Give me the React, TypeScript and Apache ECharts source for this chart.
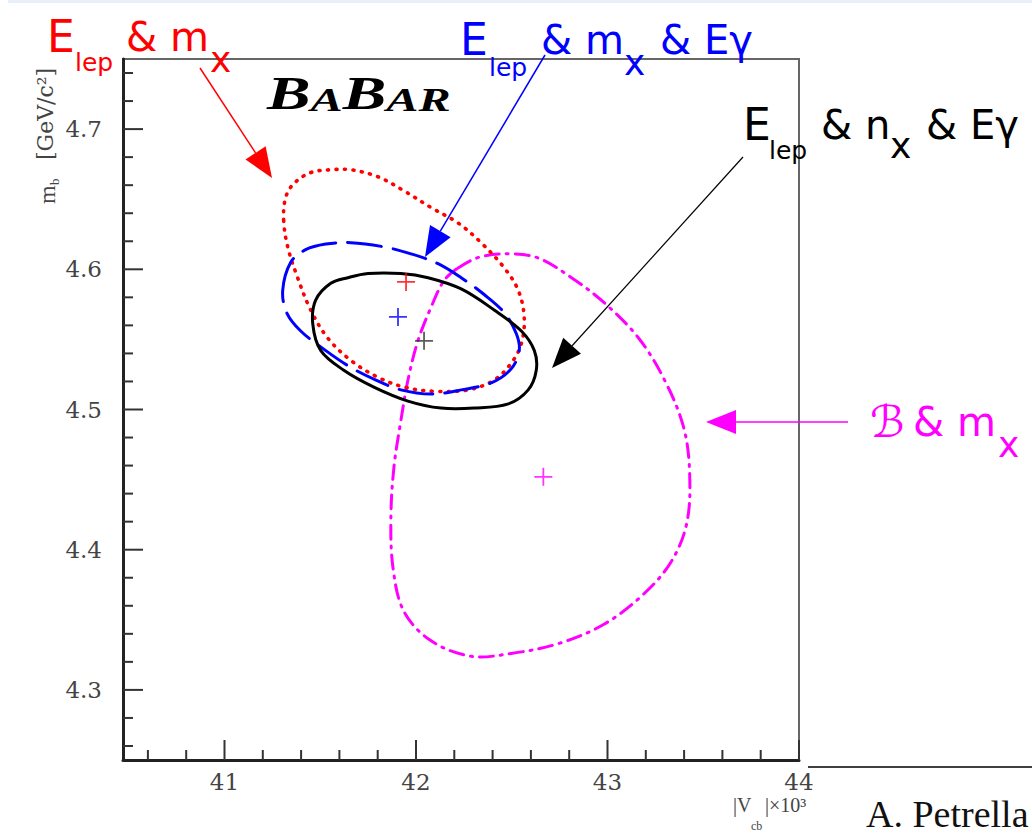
import React, { useEffect, useRef } from "react";
import * as echarts from "echarts";

// Axis ranges: |Vcb| x 10^3 (horizontal) and m_b in GeV/c^2 (vertical)
const X_MIN = 40.47;
const X_MAX = 44;
const Y_MIN = 4.25;
const Y_MAX = 4.75;

const xMajorTicks = [41, 42, 43, 44];
const xMinorTicks = [40.6, 40.8, 41.2, 41.4, 41.6, 41.8, 42.2, 42.4, 42.6, 42.8, 43.2, 43.4, 43.6, 43.8];
const yMajorTicks = [4.3, 4.4, 4.5, 4.6, 4.7];
const yMinorTicks = [
  4.26, 4.28, 4.32, 4.34, 4.36, 4.38, 4.42, 4.44, 4.46, 4.48,
  4.52, 4.54, 4.56, 4.58, 4.62, 4.64, 4.66, 4.68, 4.72, 4.74,
];

// 1-sigma contours of the fits: [|Vcb| x 10^3, m_b]
const elepMx = [
  [41.309, 4.635], [41.319, 4.651], [41.361, 4.661], [41.45, 4.669], [41.555, 4.671],
  [41.66, 4.671], [41.801, 4.666], [41.937, 4.656], [42.079, 4.644], [42.22, 4.633],
  [42.34, 4.619], [42.461, 4.601], [42.534, 4.585], [42.565, 4.566], [42.55, 4.547],
  [42.497, 4.533], [42.408, 4.521], [42.272, 4.514], [42.094, 4.513], [41.937, 4.516],
  [41.801, 4.523], [41.66, 4.535], [41.539, 4.551], [41.45, 4.571], [41.382, 4.594],
  [41.33, 4.616],
];

const elepMxEg = [
  [41.304, 4.585], [41.346, 4.605], [41.424, 4.614], [41.529, 4.618], [41.66, 4.619],
  [41.832, 4.616], [41.974, 4.611], [42.115, 4.604], [42.236, 4.594], [42.356, 4.582],
  [42.461, 4.569], [42.524, 4.554], [42.539, 4.542], [42.497, 4.529], [42.393, 4.519],
  [42.236, 4.514], [42.079, 4.511], [41.921, 4.514], [41.791, 4.521], [41.66, 4.53],
  [41.529, 4.542], [41.398, 4.556], [41.325, 4.569],
];

const elepNxEg = [
  [41.749, 4.597], [41.921, 4.597], [42.063, 4.594], [42.236, 4.586], [42.408, 4.571],
  [42.55, 4.556], [42.618, 4.542], [42.628, 4.528], [42.586, 4.514], [42.482, 4.504],
  [42.304, 4.501], [42.131, 4.501], [41.958, 4.506], [41.78, 4.516], [41.623, 4.528],
  [41.503, 4.542], [41.461, 4.561], [41.476, 4.578], [41.555, 4.59], [41.644, 4.594],
];

const bMx = [
  [42.22, 4.601], [42.34, 4.609], [42.497, 4.611], [42.639, 4.608], [42.812, 4.594],
  [42.984, 4.576], [43.162, 4.551], [43.298, 4.521], [43.398, 4.487], [43.429, 4.454],
  [43.414, 4.419], [43.335, 4.392], [43.194, 4.369], [42.984, 4.347], [42.743, 4.333],
  [42.497, 4.326], [42.288, 4.324], [42.079, 4.335], [41.937, 4.356], [41.88, 4.387],
  [41.869, 4.423], [41.885, 4.459], [41.921, 4.492], [41.958, 4.521], [42.01, 4.549],
  [42.079, 4.573], [42.147, 4.592],
];

// Central values of each fit
const elepMxCenter = [41.948, 4.591];
const elepMxEgCenter = [41.906, 4.566];
const elepNxEgCenter = [42.042, 4.549];
const bMxCenter = [42.665, 4.452];

const RED = "#ff0000";
const BLUE = "#0000ff";
const BLACK = "#000000";
const MAGENTA = "#ff00ff";

const CROSS =
  "path://M-1,-10L1,-10L1,-1L10,-1L10,1L1,1L1,10L-1,10L-1,1L-10,1L-10,-1L-1,-1Z";

function contourSeries(
  name: string,
  pts: number[][],
  color: string,
  dash: number[] | null,
  width: number,
  z: number
) {
  return {
    type: "custom",
    name,
    silent: true,
    z,
    data: pts,
    renderItem: (params: any, api: any) => {
      if (params.dataIndex !== 0) return null;
      const points = pts.map((p) => api.coord(p));
      return {
        type: "polygon",
        shape: { points, smooth: 0.35 },
        style: {
          fill: "none",
          stroke: color,
          lineWidth: width,
          lineDash: dash || undefined,
          lineCap: "round",
        },
      };
    },
  };
}

function xTickSeries(values: number[], len: number) {
  return {
    type: "custom",
    silent: true,
    z: 6,
    data: values.map((v) => [v, Y_MIN]),
    renderItem: (_p: any, api: any) => {
      const p = api.coord([api.value(0), api.value(1)]);
      return {
        type: "line",
        shape: { x1: p[0], y1: p[1], x2: p[0], y2: p[1] - len },
        style: { stroke: "#333", lineWidth: 2 },
      };
    },
  };
}

function yTickSeries(values: number[], len: number) {
  return {
    type: "custom",
    silent: true,
    z: 6,
    data: values.map((v) => [X_MIN, v]),
    renderItem: (_p: any, api: any) => {
      const p = api.coord([api.value(0), api.value(1)]);
      return {
        type: "line",
        shape: { x1: p[0], y1: p[1], x2: p[0] + len, y2: p[1] },
        style: { stroke: "#333", lineWidth: 2 },
      };
    },
  };
}

function arrow(x1: number, y1: number, x2: number, y2: number, color: string, width: number) {
  const dx = x2 - x1;
  const dy = y2 - y1;
  const d = Math.hypot(dx, dy);
  const ux = dx / d;
  const uy = dy / d;
  const L = 30;
  const W = 12;
  const bx = x2 - ux * L;
  const by = y2 - uy * L;
  return [
    {
      type: "line",
      z: 100,
      shape: { x1, y1, x2: bx, y2: by },
      style: { stroke: color, lineWidth: width },
    },
    {
      type: "polygon",
      z: 100,
      shape: {
        points: [
          [x2, y2],
          [bx - uy * W, by + ux * W],
          [bx + uy * W, by - ux * W],
        ],
      },
      style: { fill: color },
    },
  ];
}

function txt(
  text: string,
  x: number,
  y: number,
  size: number,
  color: string,
  family = "DejaVu Sans",
  extra: any = {}
) {
  return {
    type: "text",
    z: 100,
    x,
    y,
    style: {
      text,
      fontSize: size,
      fontFamily: family,
      fill: color,
      align: "left",
      textAlign: "left",
      verticalAlign: "middle",
      textVerticalAlign: "middle",
      ...extra,
    },
  };
}

function buildOption() {
  const graphic: any[] = [
    // thin band at the top of the page
    { type: "rect", z: 1, shape: { x: 8, y: 0, width: 1024, height: 3 }, style: { fill: "#e8eff8" } },

    // annotation labels
    txt("E", 47, 36, 44, RED),
    txt("lep", 75, 62, 25, RED),
    txt("& m", 126, 37, 40, RED),
    txt("x", 210, 59, 36, RED),

    txt("E", 460, 39, 44, BLUE),
    txt("lep", 489, 67, 25, BLUE),
    txt("& m", 541, 40, 40, BLUE),
    txt("x", 624, 62, 36, BLUE),
    txt("& Eγ", 660, 40, 40, BLUE),

    txt("E", 743, 124, 44, BLACK),
    txt("lep", 769, 150, 25, BLACK),
    txt("& n", 821, 125, 40, BLACK),
    txt("x", 890, 145, 36, BLACK),
    txt("& Eγ", 926, 125, 40, BLACK),

    txt("ℬ", 870, 421, 44, MAGENTA),
    txt("& m", 913, 422, 40, MAGENTA),
    txt("x", 998, 444, 36, MAGENTA),

    ...arrow(200, 68, 272, 178, RED, 1.5),
    ...arrow(545, 55, 425, 257, BLUE, 1.5),
    ...arrow(743, 157, 552, 368, BLACK, 1.2),
    ...arrow(848, 422, 706, 422, MAGENTA, 1.5),

    // experiment logo
    {
      type: "text",
      z: 100,
      x: 267,
      y: 94,
      scaleX: 1.42,
      style: {
        text: "{b|B}{s|A}{b|B}{s|AR}",
        fill: "#000",
        verticalAlign: "middle",
        textVerticalAlign: "middle",
        rich: {
          b: {
            fontSize: 46,
            fontFamily: "Liberation Serif",
            fontWeight: "bold",
            fontStyle: "italic",
            fill: "#000",
            verticalAlign: "bottom",
          },
          s: {
            fontSize: 34,
            fontFamily: "Liberation Serif",
            fontWeight: "bold",
            fontStyle: "italic",
            fill: "#000",
            verticalAlign: "bottom",
          },
        },
      },
    },

    // y-axis title
    {
      type: "group",
      z: 100,
      x: 47,
      y: 204,
      rotation: Math.PI / 2,
      children: [
        txt("m", 0, 0, 24, "#444", "Liberation Serif"),
        txt("b", 19, 7, 13, "#444", "Liberation Serif"),
        txt("[GeV/c²]", 44, -2, 22, "#444", "DejaVu Serif"),
      ],
    },

    // x-axis title
    txt("|V", 733, 805, 20, "#444", "Liberation Serif"),
    txt("cb", 751, 826, 12, "#444", "Liberation Serif"),
    txt("|×10³", 765, 805, 20, "#444", "Liberation Serif"),

    // footer
    { type: "line", z: 100, shape: { x1: 808, y1: 767, x2: 1032, y2: 767 }, style: { stroke: "#000", lineWidth: 1.5 } },
    txt("A. Petrella", 866, 814, 38, "#111", "Liberation Serif"),
  ];

  return {
    animation: false,
    backgroundColor: "#fff",
    grid: {
      left: 123,
      right: 233,
      top: 59,
      bottom: 80,
      show: true,
      borderColor: "#666",
      borderWidth: 2,
      backgroundColor: "transparent",
    },
    xAxis: {
      type: "value",
      min: X_MIN,
      max: X_MAX,
      splitNumber: 4,
      axisLine: { show: true, onZero: false, lineStyle: { color: "#222", width: 3 } },
      axisTick: { show: false },
      splitLine: { show: false },
      axisLabel: {
        show: true,
        showMinLabel: true,
        showMaxLabel: true,
        margin: 10,
        fontSize: 23,
        fontFamily: "DejaVu Serif",
        color: "#444",
        formatter: (v: number) => (Math.abs(v - Math.round(v)) < 1e-6 ? String(Math.round(v)) : ""),
      },
    },
    yAxis: {
      type: "value",
      min: Y_MIN,
      max: Y_MAX,
      splitNumber: 5,
      axisLine: { show: true, onZero: false, lineStyle: { color: "#222", width: 3 } },
      axisTick: { show: false },
      splitLine: { show: false },
      axisLabel: {
        show: true,
        margin: 21,
        fontSize: 23,
        fontFamily: "DejaVu Serif",
        color: "#444",
        formatter: (v: number) =>
          Math.abs(v * 10 - Math.round(v * 10)) < 1e-6 ? (Math.round(v * 10) / 10).toFixed(1) : "",
      },
    },
    series: [
      xTickSeries(xMajorTicks, 20),
      xTickSeries(xMinorTicks, 10),
      yTickSeries(yMajorTicks, 20),
      yTickSeries(yMinorTicks, 10),
      contourSeries("B & mX", bMx, MAGENTA, [14, 7, 2, 7], 3, 10),
      contourSeries("Elep & mX", elepMx, RED, [1, 7.5], 3.6, 11),
      contourSeries("Elep & mX & Eγ", elepMxEg, BLUE, [34, 12], 3, 12),
      contourSeries("Elep & nX & Eγ", elepNxEg, BLACK, null, 3, 13),
      {
        type: "scatter",
        silent: true,
        z: 20,
        symbol: CROSS,
        symbolSize: 18,
        data: [
          { value: elepMxCenter, itemStyle: { color: RED } },
          { value: elepMxEgCenter, itemStyle: { color: BLUE } },
          { value: elepNxEgCenter, itemStyle: { color: "#333" } },
          { value: bMxCenter, itemStyle: { color: MAGENTA } },
        ],
      },
    ],
    graphic,
  };
}

export default function App() {
  const ref = useRef<HTMLDivElement>(null);
  useEffect(() => {
    if (!ref.current) return;
    const chart = echarts.init(ref.current, null, { renderer: "svg" });
    chart.setOption(buildOption() as any);
    return () => chart.dispose();
  }, []);
  return (
    <div
      ref={ref}
      style={{ position: "fixed", left: 0, top: 0, width: 1032, height: 840, background: "#fff" }}
    />
  );
}
